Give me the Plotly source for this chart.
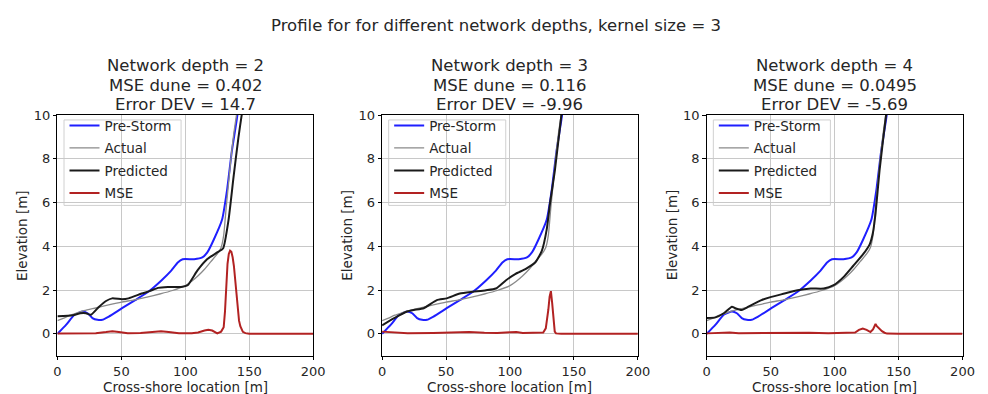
import plotly.graph_objects as go

# ---------------- data ----------------
depths = [2, 3, 4]
mse_dune = ["0.402", "0.116", "0.0495"]
error_dev = ["14.7", "-9.96", "-5.69"]

x_pre = [0, 6.9, 13.3, 19.7, 23.6, 27.4, 31.3, 35.1, 40.2, 50.5, 60.8, 71, 81.3, 89, 94.1, 97.9,
         106.9, 113.3, 117.2, 122.3, 128.7, 132.6, 136.4, 140.2, 143, 148, 160, 200]
y_pre = [0, 0.42, 0.87, 1.02, 0.94, 0.72, 0.64, 0.64, 0.79, 1.17, 1.54, 1.92, 2.44, 2.89, 3.26, 3.41,
         3.41, 3.49, 3.72, 4.31, 5.21, 6.56, 8.36, 9.78, 11, 13, 15, 16]

x_act = [0, 5, 10, 15, 20, 25, 30, 40, 50, 60, 70, 80, 90, 100, 105, 110, 115, 120, 125, 128, 130,
         132, 134, 136, 138, 140, 143, 148, 160, 200]
y_act = [0.6, 0.72, 0.85, 0.95, 1.05, 1.12, 1.18, 1.32, 1.45, 1.55, 1.68, 1.82, 1.98, 2.2, 2.4, 2.65,
         2.95, 3.3, 3.65, 3.95, 4.5, 5.8, 7.0, 8.2, 9.2, 10.0, 11.2, 13, 15, 16]

x_pred1 = [0, 12, 18, 22.3, 26.2, 32.6, 38, 42.8, 50.5, 55.6, 65.9, 72, 78.7, 86.4, 96.7, 101.8,
           109.5, 117.2, 124.9, 129.5, 133.8, 137.7, 141.5, 144.1, 147, 150, 160, 200]
y_pred1 = [0.80, 0.85, 0.94, 0.94, 0.87, 1.24, 1.5, 1.62, 1.58, 1.62, 1.84, 1.95, 2.1, 2.14, 2.14, 2.22,
           2.9, 3.42, 3.72, 3.9, 5.21, 7.16, 8.96, 10.01, 11.2, 12.5, 15, 16]

x_pred2 = [0, 9.5, 19.7, 24.9, 32.6, 42.8, 50.5, 60.8, 71, 81.3, 89, 96.7, 104.4, 112.1, 119.7,
           124.9, 128.7, 131.3, 135.1, 140.2, 143, 148, 160, 200]
y_pred2 = [0.39, 0.72, 1.02, 1.09, 1.17, 1.54, 1.62, 1.84, 1.92, 1.99, 2.07, 2.44, 2.74, 2.96, 3.26,
           3.79, 4.76, 5.96, 7.46, 10.0, 11.2, 13, 15, 16]

x_pred3 = [0, 6.9, 13.3, 19.7, 22.3, 27.4, 32.6, 42.8, 50.5, 60.8, 71, 81.3, 91.5, 99.2, 106.9,
           114.6, 122.3, 127.4, 129.9, 132, 135.1, 140.2, 143, 148, 160, 200]
y_pred3 = [0.72, 0.75, 0.94, 1.24, 1.17, 1.09, 1.24, 1.54, 1.69, 1.84, 1.99, 2.07, 2.07, 2.22, 2.59,
           3.11, 3.64, 4.09, 4.61, 5.51, 7.46, 10.0, 11.2, 13, 15, 16]

x_mse1 = [0, 10, 20, 30, 38, 43, 48, 55, 65, 75, 81, 87, 95, 105, 110, 115, 118, 121, 125, 128, 130,
          131, 132, 133, 134, 135, 136, 137, 138, 139, 140, 141, 142, 143, 144, 145, 147, 150, 200]
y_mse1 = [0.02, 0.03, 0.02, 0.03, 0.08, 0.12, 0.08, 0.03, 0.04, 0.08, 0.12, 0.08, 0.03, 0.03, 0.06,
          0.15, 0.18, 0.15, 0.02, 0.1, 0.3, 1.0, 2.2, 3.2, 3.65, 3.8, 3.75, 3.5, 3.1, 2.5, 1.6, 1.0,
          0.6, 0.35, 0.18, 0.09, 0.03, 0.0, 0.0]

x_mse2 = [0, 10, 20, 40, 55, 68, 80, 90, 100, 105, 110, 120, 126, 128, 129, 130, 131, 132, 133,
          134, 135, 136, 140, 200]
y_mse2 = [0.1, 0.05, 0.03, 0.04, 0.06, 0.08, 0.05, 0.04, 0.07, 0.08, 0.04, 0.04, 0.06, 0.25, 0.6,
          1.1, 1.7, 1.95, 1.4, 0.6, 0.1, 0.02, 0, 0]

x_mse3 = [0, 10, 18, 25, 40, 55, 70, 80, 95, 110, 116, 119, 122, 125, 128, 130, 131, 132, 133, 135,
          137, 139, 141, 150, 200]
y_mse3 = [0.02, 0.03, 0.06, 0.03, 0.04, 0.05, 0.07, 0.05, 0.03, 0.03, 0.06, 0.18, 0.24, 0.18, 0.08,
          0.2, 0.38, 0.45, 0.35, 0.22, 0.12, 0.05, 0.01, 0, 0]

x_ticks = [0, 50, 100, 150, 200]
y_ticks = [0, 2, 4, 6, 8, 10]

preds = [(x_pred1, y_pred1), (x_pred2, y_pred2), (x_pred3, y_pred3)]
mses = [(x_mse1, y_mse1), (x_mse2, y_mse2), (x_mse3, y_mse3)]

# ---------------- layout geometry ----------------
W, H = 988, 394
FONT = "DejaVu Sans"
TXT = "#262626"
x_domains = [[54.3 / W, 314.3 / W], [384.3 / W, 644.3 / W], [714.3 / W, 974.3 / W]]
y_domain = [1 - 355 / H, 1 - 110 / H]

fig = go.Figure()
annotations = []
shapes = []
for i in range(3):
    sfx = "" if i == 0 else str(i + 1)
    xa, ya = "x" + sfx, "y" + sfx
    lg = "legend" + sfx
    px, py = preds[i]
    mx, my = mses[i]
    fig.add_trace(go.Scatter(x=x_pre, y=y_pre, name="Pre-Storm", mode="lines",
                             line=dict(color="#1f1fff", width=2, shape="spline", smoothing=0.5),
                             xaxis=xa, yaxis=ya, legend=lg, legendgroup=f"a{i}"))
    fig.add_trace(go.Scatter(x=x_act, y=y_act, name="Actual", mode="lines",
                             line=dict(color="#8a8a8a", width=1.3, shape="spline", smoothing=0.5),
                             xaxis=xa, yaxis=ya, legend=lg, legendgroup=f"b{i}"))
    fig.add_trace(go.Scatter(x=px, y=py, name="Predicted", mode="lines",
                             line=dict(color="#1a1a1a", width=2, shape="spline", smoothing=0.5),
                             xaxis=xa, yaxis=ya, legend=lg, legendgroup=f"c{i}"))
    fig.add_trace(go.Scatter(x=mx, y=my, name="MSE", mode="lines",
                             line=dict(color="#b22222", width=2),
                             xaxis=xa, yaxis=ya, legend=lg, legendgroup=f"d{i}"))

    axis_common = dict(showline=True, mirror=True, linecolor="black", linewidth=1,
                       showgrid=True, gridcolor="#c8c8c8", gridwidth=1, zeroline=False,
                       ticks="outside", ticklen=3.5, tickcolor="black",
                       tickfont=dict(family=FONT, size=13, color=TXT))
    fig.update_layout(**{
        "xaxis" + sfx: dict(domain=x_domains[i], range=[0, 200], tickvals=x_ticks,
                            anchor=ya, **axis_common),
        "yaxis" + sfx: dict(domain=y_domain, range=[-1, 10], tickvals=y_ticks,
                            anchor=xa, **axis_common),
        lg: dict(x=(61.5 + 330 * i) / W, y=1 - 105 / H, xanchor="left", yanchor="top",
                 bgcolor="rgba(0,0,0,0)", bordercolor="rgba(0,0,0,0)", borderwidth=0,
                 font=dict(family=FONT, size=13.5, color=TXT), tracegroupgap=2,
                 itemwidth=30),
    })
    # legend frame
    shapes.append(dict(type="rect", xref="paper", yref="paper", layer="between",
                       x0=(61 + 330 * i) / W, x1=(180 + 330 * i) / W,
                       y0=1 - 202 / H, y1=1 - 115 / H,
                       fillcolor="rgba(255,255,255,0.85)", line=dict(color="#d0d0d0", width=1)))
    cx = (x_domains[i][0] + x_domains[i][1]) / 2
    for txt, ypx in [(f"Network depth = {depths[i]}", 60),
                     (f"MSE dune = {mse_dune[i]}", 79.5),
                     (f"Error DEV = {error_dev[i]}", 99)]:
        annotations.append(dict(text=txt, x=cx, y=1 - ypx / H, xref="paper", yref="paper",
                                xanchor="center", yanchor="middle", showarrow=False,
                                font=dict(family=FONT, size=16.5, color=TXT)))
    annotations.append(dict(text="Cross-shore location [m]", x=cx, y=1 - 386.5 / H,
                            xref="paper", yref="paper", xanchor="center", yanchor="middle",
                            showarrow=False, font=dict(family=FONT, size=13.5, color=TXT)))
    annotations.append(dict(text="Elevation [m]", x=(19 + 330 * i) / W,
                            y=(y_domain[0] + y_domain[1]) / 2, textangle=-90,
                            xref="paper", yref="paper", xanchor="center", yanchor="middle",
                            showarrow=False, font=dict(family=FONT, size=13.5, color=TXT)))

annotations.append(dict(text="Profile for for different network depths, kernel size = 3",
                        x=500 / W, y=1 - 19 / H, xref="paper", yref="paper", xanchor="center",
                        yanchor="middle", showarrow=False,
                        font=dict(family=FONT, size=16.5, color=TXT)))

fig.update_layout(width=W, height=H, margin=dict(l=0, r=0, t=0, b=0),
                  paper_bgcolor="white", plot_bgcolor="white",
                  annotations=annotations, shapes=shapes, showlegend=True)

fig.write_html("out.html", post_script="document.body.style.margin='0';")
